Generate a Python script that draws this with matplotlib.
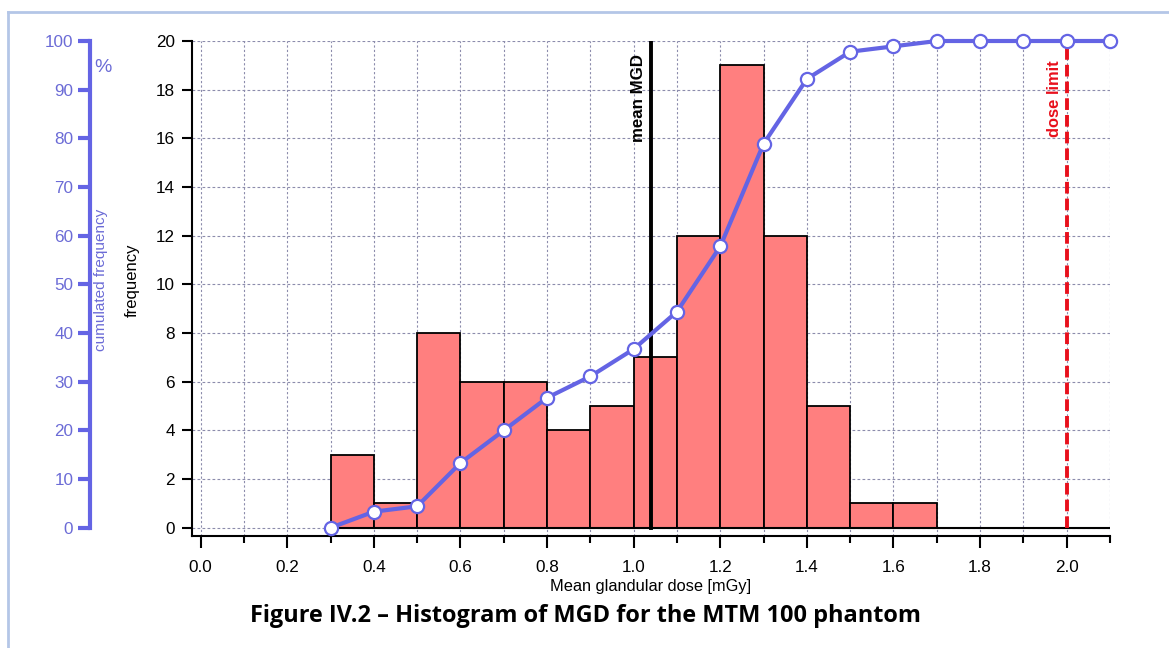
import numpy as np
import matplotlib
matplotlib.use('Agg')
from matplotlib import pyplot as plt
from matplotlib.lines import Line2D

# histogram of mean glandular dose, bins 0.1 mGy wide
bin_left = [0.3, 0.4, 0.5, 0.6, 0.7, 0.8, 0.9, 1.0, 1.1, 1.2, 1.3, 1.4, 1.5, 1.6]
counts = [3, 1, 8, 6, 6, 4, 5, 7, 12, 19, 12, 5, 1, 1]

# cumulated frequency (%)
cum_x = [0.3, 0.4, 0.5, 0.6, 0.7, 0.8, 0.9, 1.0, 1.1, 1.2, 1.3, 1.4, 1.5,
         1.6, 1.7, 1.8, 1.9, 2.0, 2.1]
cum_pct = [0, 3.3, 4.4, 13.3, 20.0, 26.7, 31.1, 36.7, 44.4, 57.8, 78.9, 92.2,
           97.8, 98.9, 100, 100, 100, 100, 100]

mean_mgd = 1.04
dose_limit = 2.0

x_min, x_max = -0.02, 2.1
y_min, y_max = -0.34, 20

blue = '#6464e4'
blue_txt = '#6b6bd6'
font = ['Liberation Sans', 'DejaVu Sans']
plt.rcParams['font.family'] = font

fig = plt.figure(figsize=(11.69, 6.48), dpi=100)
ax = fig.add_axes([192 / 1169, 1 - 536 / 648, 918 / 1169, 495 / 648])

ax.set_xlim(x_min, x_max)
ax.set_ylim(y_min, y_max)

# grid
ax.set_xticks(np.arange(0, 2.01, 0.2))
ax.set_xticks(np.arange(0.1, 2.11, 0.1), minor=True)
ax.set_yticks(np.arange(0, 21, 2))
ax.set_xticklabels([f'{v:.1f}' for v in np.arange(0, 2.01, 0.2)])
ax.grid(which='both', axis='x', color='#8c8cac', linestyle=(0, (2, 2)), lw=0.8)
ax.grid(which='major', axis='y', color='#8c8cac', linestyle=(0, (2.5, 2)), lw=0.8)
ax.set_axisbelow(True)

ax.bar(bin_left, counts, width=0.1, align='edge', color='#ff7f7f',
       edgecolor='black', lw=1.3, zorder=2)
ax.hlines(0, bin_left[0], x_max, color='black', lw=1.5, zorder=3)

ax.axvline(mean_mgd, ymin=(0 - y_min) / (y_max - y_min), color='black', lw=2.8, zorder=4)
ax.text(mean_mgd - 0.012, 19.45, 'mean MGD', rotation=90, ha='right', va='top',
        fontsize=12.2, fontweight='bold', color='black')
ax.axvline(dose_limit, ymin=(0 - y_min) / (y_max - y_min), color='#e8101c', lw=2.8,
           linestyle=(0, (3, 1.3)), zorder=4)
ax.text(dose_limit - 0.012, 19.2, 'dose limit', rotation=90, ha='right', va='top',
        fontsize=11.9, fontweight='bold', color='#e8101c')

for s in ['top', 'right']:
    ax.spines[s].set_visible(False)
ax.spines['left'].set_linewidth(1.5)
ax.spines['bottom'].set_linewidth(1.5)
ax.tick_params(axis='y', direction='out', length=7.5, width=1.5, pad=5, labelsize=12.3)
ax.tick_params(axis='x', which='major', direction='out', length=8.5, width=1.5, pad=9,
               labelsize=12.3)
ax.tick_params(axis='x', which='minor', direction='out', length=5, width=1.5)
ax.set_xlabel('Mean glandular dose [mGy]', fontsize=11.8, labelpad=3)
ax.text(-0.065, 0.517, 'frequency', transform=ax.transAxes, rotation=90,
        ha='center', va='center', fontsize=12)

# cumulated frequency on its own axis to the left
ax2 = ax.twinx()
ax2.set_ylim(y_min * 5, y_max * 5)
ax2.plot(cum_x, cum_pct, color=blue, lw=3, marker='o', markersize=9.5,
         markerfacecolor='white', markeredgecolor=blue, markeredgewidth=1.6,
         zorder=5, clip_on=False)
ax2.spines['right'].set_visible(False)
ax2.spines['top'].set_visible(False)
ax2.spines['bottom'].set_visible(False)
ax2.spines['left'].set_visible(True)
ax2.spines['left'].set_position(('axes', (90 - 192) / 918))
ax2.spines['left'].set_bounds(0, 100)
ax2.spines['left'].set_color(blue)
ax2.spines['left'].set_linewidth(3)
ax2.yaxis.set_ticks_position('left')
ax2.set_yticks(np.arange(0, 101, 10))
ax2.tick_params(axis='y', direction='out', length=9, width=3, color=blue,
                labelcolor=blue_txt, pad=3, labelsize=12.3)
ax2.text((101 - 192) / 918, 0.517, 'cumulated frequency', transform=ax2.transAxes,
         rotation=90, ha='center', va='center', fontsize=11, color=blue_txt)
ax2.text((103 - 192) / 918, (536 - 67) / 495, '%', transform=ax2.transAxes,
         ha='center', va='center', fontsize=14, color=blue_txt)
ax2.set_zorder(ax.get_zorder() + 1)
ax2.patch.set_visible(False)

fig.text(585 / 1169, 1 - 616 / 648, 'Figure IV.2 \u2013 Histogram of MGD for the MTM 100 phantom',
         ha='center', va='center', fontsize=16.9, fontweight='bold',
         family=['Open Sans', 'DejaVu Sans'])

# light blue page frame (top and left edges)
fig.add_artist(Line2D([8 / 1169, 1], [1 - 12 / 648, 1 - 12 / 648], color='#b4c6e7', lw=2,
                      transform=fig.transFigure))
fig.add_artist(Line2D([8 / 1169, 8 / 1169], [0, 1 - 12 / 648], color='#b4c6e7', lw=2,
                      transform=fig.transFigure))

fig.savefig('out.png', dpi=100)
